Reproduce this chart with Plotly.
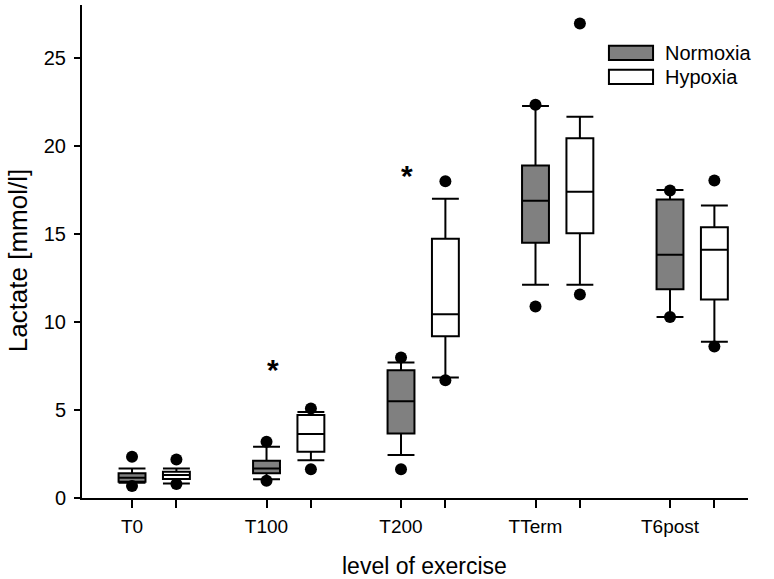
import plotly.graph_objects as go

# ---------------- data ----------------
categories = ["T0", "T100", "T200", "TTerm", "T6post"]

norm_lower = [0.87, 1.06, 2.44, 12.11, 10.28]
norm_q1 = [0.92, 1.40, 3.67, 14.50, 11.85]
norm_median = [1.15, 1.68, 5.50, 16.88, 13.81]
norm_q3 = [1.40, 2.11, 7.26, 18.88, 16.95]
norm_upper = [1.68, 2.91, 7.69, 22.26, 17.50]
norm_out_low = [0.68, 0.98, 1.63, 10.88, 10.28]
norm_out_high = [2.34, 3.19, 7.98, 22.34, 17.46]

hyp_lower = [0.83, 2.15, 6.84, 12.11, 8.88]
hyp_q1 = [1.08, 2.63, 9.18, 15.04, 11.28]
hyp_median = [1.30, 3.63, 10.43, 17.40, 14.10]
hyp_q3 = [1.49, 4.71, 14.72, 20.43, 15.38]
hyp_upper = [1.68, 4.89, 16.99, 21.66, 16.61]
hyp_out_low = [0.79, 1.63, 6.69, 11.56, 8.60]
hyp_out_high = [2.19, 5.08, 17.99, 26.95, 18.03]

star_categories = ["T100", "T200"]
star_values = [7.3, 18.3]

y_ticks = [0, 5, 10, 15, 20, 25]

# ---------------- layout helpers ----------------
OFF = 0.33
n_pos = [i for i in range(len(categories))]
h_pos = [i + OFF for i in range(len(categories))]

FONT = "Liberation Sans, Arial, sans-serif"
LINE = dict(color="black", width=2)

fig = go.Figure()

fig.add_trace(go.Box(
    name="Normoxia", x=n_pos, q1=norm_q1, median=norm_median, q3=norm_q3,
    lowerfence=norm_lower, upperfence=norm_upper, width=0.2, whiskerwidth=1,
    fillcolor="#808080", line=LINE, boxpoints=False, showlegend=False,
))
fig.add_trace(go.Box(
    name="Hypoxia", x=h_pos, q1=hyp_q1, median=hyp_median, q3=hyp_q3,
    lowerfence=hyp_lower, upperfence=hyp_upper, width=0.2, whiskerwidth=1,
    fillcolor="white", line=LINE, boxpoints=False, showlegend=False,
))

fig.add_trace(go.Scatter(
    x=n_pos + n_pos + h_pos + h_pos,
    y=norm_out_low + norm_out_high + hyp_out_low + hyp_out_high,
    mode="markers", marker=dict(color="black", size=12), showlegend=False,
    hoverinfo="y",
))

for cat, val in zip(star_categories, star_values):
    fig.add_annotation(x=categories.index(cat) + 0.045, y=val, text="<b>*</b>",
                       showarrow=False, font=dict(family=FONT, size=30, color="black"))

# manual legend
leg = [("Normoxia", "#808080", 25.28), ("Hypoxia", "white", 23.92)]
for label, fill, yc in leg:
    fig.add_shape(type="rect", xref="x", yref="y", x0=3.546, x1=3.874,
                  y0=yc - 0.40, y1=yc + 0.40, fillcolor=fill,
                  line=dict(color="black", width=2))
    fig.add_annotation(x=3.945, y=yc, text=label, xanchor="left", showarrow=False,
                       font=dict(family=FONT, size=20, color="black"))

# axis titles as annotations
fig.add_annotation(x=0.515, y=-0.138, xref="paper", yref="paper", text="level of exercise",
                   showarrow=False, font=dict(family=FONT, size=23, color="black"),
                   xanchor="center", yanchor="middle")
fig.add_annotation(x=-0.097, y=0.483, xref="paper", yref="paper", text="Lactate [mmol/l]",
                   textangle=-90, showarrow=False,
                   font=dict(family=FONT, size=26, color="black"),
                   xanchor="center", yanchor="middle")

tickvals = []
ticktext = []
for i, c in enumerate(categories):
    tickvals += [n_pos[i], h_pos[i]]
    ticktext += [c, ""]

fig.update_layout(
    width=774, height=579,
    margin=dict(l=82, r=26, t=5, b=81),
    plot_bgcolor="white", paper_bgcolor="white",
    font=dict(family=FONT, size=19, color="black"),
    xaxis=dict(range=[-0.372, 4.58], tickvals=tickvals, ticktext=ticktext,
               ticks="outside", ticklen=8, tickwidth=2, tickcolor="black",
               showline=True, linecolor="black", linewidth=2, showgrid=False,
               zeroline=False, tickfont=dict(size=19), ticklabelstandoff=2),
    yaxis=dict(range=[0, 28], tickvals=y_ticks, ticks="outside", ticklen=6,
               tickwidth=2, tickcolor="black", showline=True, linecolor="black",
               linewidth=2, showgrid=False, zeroline=False,
               tickfont=dict(size=20), ticklabelstandoff=4),
)

fig.write_html("out.html", config={"displayModeBar": False},
               post_script="document.body.style.margin='0';")
